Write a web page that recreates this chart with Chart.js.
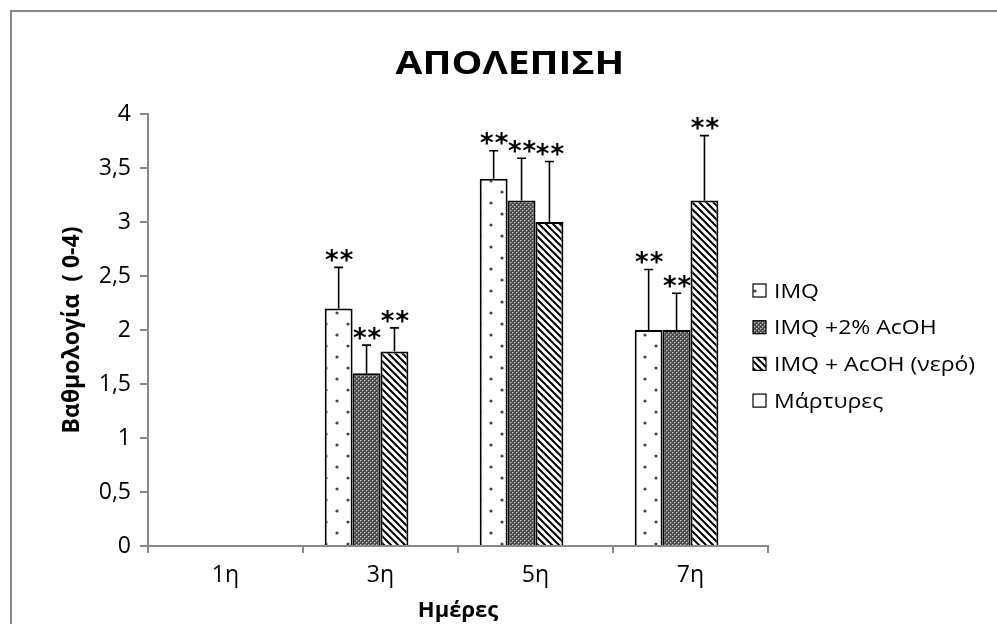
<!DOCTYPE html>
<html><head><meta charset="utf-8">
<script src="https://cdn.jsdelivr.net/npm/chart.js@4.4.1/dist/chart.umd.min.js"></script>
<style>html,body{margin:0;padding:0;background:#fff}#wrap{position:relative;width:997px;height:624px}</style>
</head><body><div id="wrap"><canvas id="c" width="997" height="624"></canvas></div>
<script>
// ---- data ----
const chartTitle = 'ΑΠΟΛΕΠΙΣΗ';
const xTitle = 'Ημέρες';
const yTitle = 'Βαθμολογία  ( 0-4)';
const days = ['1η', '3η', '5η', '7η'];
const seriesNames = ['IMQ', 'IMQ +2% AcOH', 'IMQ + AcOH (νερό)', 'Μάρτυρες'];
const imq          = [0, 2.2, 3.4, 2.0];
const imqAcoh2     = [0, 1.6, 3.2, 2.0];
const imqAcohWater = [0, 1.8, 3.0, 3.2];
const controls     = [0, 0, 0, 0];
const imqErr          = [0, 0.38, 0.26, 0.56];
const imqAcoh2Err     = [0, 0.26, 0.39, 0.34];
const imqAcohWaterErr = [0, 0.22, 0.56, 0.6];
const controlsErr     = [0, 0, 0, 0];
const imqSig          = ['', '**', '**', '**'];
const imqAcoh2Sig     = ['', '**', '**', '**'];
const imqAcohWaterSig = ['', '**', '**', '**'];
const controlsSig     = ['', '', '', ''];
const yTickValues = [0, 0.5, 1, 1.5, 2, 2.5, 3, 3.5, 4];

const FONT = "'Open Sans', 'Noto Sans', sans-serif";

// ---- patterns ----
function makePattern(w, h, draw) {
  const c = document.createElement('canvas'); c.width = w; c.height = h;
  const g = c.getContext('2d'); draw(g, w, h);
  return document.getElementById('c').getContext('2d').createPattern(c, 'repeat');
}
const dotsPat = makePattern(22, 22, (g) => {
  g.fillStyle = '#fff'; g.fillRect(0, 0, 22, 22);
  g.fillStyle = '#444';
  g.beginPath(); g.arc(7, 5, 1.6, 0, Math.PI * 2); g.fill();
  g.beginPath(); g.arc(18, 16, 1.6, 0, Math.PI * 2); g.fill();
});
const stipplePat = makePattern(4, 4, (g) => {
  g.fillStyle = '#4a4a4a'; g.fillRect(0, 0, 4, 4);
  g.fillStyle = '#c0c0c0';
  g.fillRect(0, 0, 1, 1); g.fillRect(2, 2, 1, 1);
  g.fillStyle = '#808080';
  g.fillRect(1, 0, 1, 1); g.fillRect(0, 1, 1, 1); g.fillRect(3, 2, 1, 1); g.fillRect(2, 3, 1, 1);
});
const stripePat = makePattern(7, 7, (g) => {
  g.fillStyle = '#fff'; g.fillRect(0, 0, 7, 7);
  g.strokeStyle = '#000'; g.lineWidth = 2;
  g.beginPath();
  g.moveTo(-2, -2); g.lineTo(9, 9);
  g.moveTo(-2, 5); g.lineTo(2, 9);
  g.moveTo(5, -2); g.lineTo(9, 2);
  g.stroke();
});

const errs = [imqErr, imqAcoh2Err, imqAcohWaterErr, controlsErr];
const sigs = [imqSig, imqAcoh2Sig, imqAcohWaterSig, controlsSig];

function stretchedText(ctx, text, x, y, sx, align) {
  ctx.save();
  ctx.translate(x, y);
  ctx.scale(sx, 1);
  ctx.textAlign = align;
  ctx.fillText(text, 0, 0);
  ctx.restore();
}

const frame = {
  id: 'frame',
  beforeDraw(chart) {
    const ctx = chart.ctx;
    ctx.save();
    ctx.fillStyle = '#fff'; ctx.fillRect(0, 0, chart.width, chart.height);
    ctx.strokeStyle = '#898989'; ctx.lineWidth = 2;
    ctx.strokeRect(11, 11, 1100, 800);
    ctx.fillStyle = '#000';
    ctx.font = 'bold 33px ' + FONT;
    ctx.textBaseline = 'middle';
    stretchedText(ctx, chartTitle, 510, 65, 1.18, 'center');
    ctx.restore();
  }
};

const errorBars = {
  id: 'errorBars',
  afterDatasetsDraw(chart) {
    const ctx = chart.ctx, ys = chart.scales.y;
    ctx.save();
    chart.data.datasets.forEach((ds, di) => {
      const meta = chart.getDatasetMeta(di);
      meta.data.forEach((el, i) => {
        const v = ds.data[i], e = errs[di][i];
        if (!v) return;
        const yTop = ys.getPixelForValue(v + e);
        ctx.strokeStyle = '#000'; ctx.lineWidth = 1.6;
        ctx.beginPath();
        ctx.moveTo(el.x, el.y); ctx.lineTo(el.x, yTop);
        ctx.moveTo(el.x - 4.5, yTop); ctx.lineTo(el.x + 4.5, yTop);
        ctx.stroke();
        const s = sigs[di][i];
        if (s) {
          ctx.fillStyle = '#000';
          ctx.font = "bold 26px 'DejaVu Sans', sans-serif";
          ctx.letterSpacing = '1px';
          ctx.textAlign = 'center'; ctx.textBaseline = 'middle';
          ctx.fillText(s, el.x + 1, yTop - 5);
          ctx.letterSpacing = '0px';
        }
      });
    });
    ctx.restore();
  }
};

const customLegend = {
  id: 'customLegend',
  afterDraw(chart) {
    const ctx = chart.ctx;
    ctx.save();
    chart.data.datasets.forEach((ds, i) => {
      const yc = 291 + i * 36.7;
      ctx.fillStyle = ds.backgroundColor;
      ctx.fillRect(753, yc - 7, 13, 13);
      ctx.strokeStyle = '#000'; ctx.lineWidth = 1.2;
      ctx.strokeRect(753, yc - 7, 13, 13);
      ctx.fillStyle = '#000';
      ctx.font = '20px ' + FONT;
      ctx.textBaseline = 'middle';
      stretchedText(ctx, ds.label, 774, yc + 1, 1.15, 'left');
    });
    ctx.restore();
  }
};

const pats = [dotsPat, stipplePat, stripePat, '#fff'];
const vals = [imq, imqAcoh2, imqAcohWater, controls];

new Chart(document.getElementById('c'), {
  type: 'bar',
  data: {
    labels: days,
    datasets: seriesNames.map((n, i) => ({
      label: n,
      data: vals[i],
      backgroundColor: pats[i],
      borderColor: '#000',
      borderWidth: (c) => (c.raw ? 2 : 0),
      categoryPercentage: 0.72,
      barPercentage: 1.0
    }))
  },
  options: {
    responsive: false,
    animation: false,
    layout: { padding: { left: 10, right: 229, top: 114, bottom: 0 } },
    plugins: {
      legend: { display: false },
      tooltip: { enabled: false },
      title: { display: false }
    },
    scales: {
      x: {
        grid: { display: true, drawOnChartArea: false, tickLength: 7, color: '#898989', lineWidth: 2, offset: true },
        border: { color: '#898989', width: 2 },
        ticks: { color: '#000', font: { family: FONT, size: 23 }, padding: 9 },
        title: { display: true, text: xTitle, color: '#000', font: { family: FONT, size: 22, weight: 'bold' }, padding: { top: 0, bottom: 0 } },
        afterFit(s) { s.height = 78; }
      },
      y: {
        min: 0, max: 4,
        afterBuildTicks(s) { s.ticks = yTickValues.map(v => ({ value: v })); },
        grid: { display: true, drawOnChartArea: false, tickLength: 8, color: '#898989', lineWidth: 2 },
        border: { color: '#898989', width: 2 },
        ticks: { color: '#000', font: { family: FONT, size: 23 }, padding: 9,
          callback: (v) => String(v).replace('.', ',') },
        title: { display: true, text: yTitle, color: '#000', font: { family: FONT, size: 23, weight: 'bold' }, padding: { top: 49, bottom: 0 } },
        afterFit(s) { s.width = 138; }
      }
    }
  },
  plugins: [frame, errorBars, customLegend]
});
</script>
</body></html>
